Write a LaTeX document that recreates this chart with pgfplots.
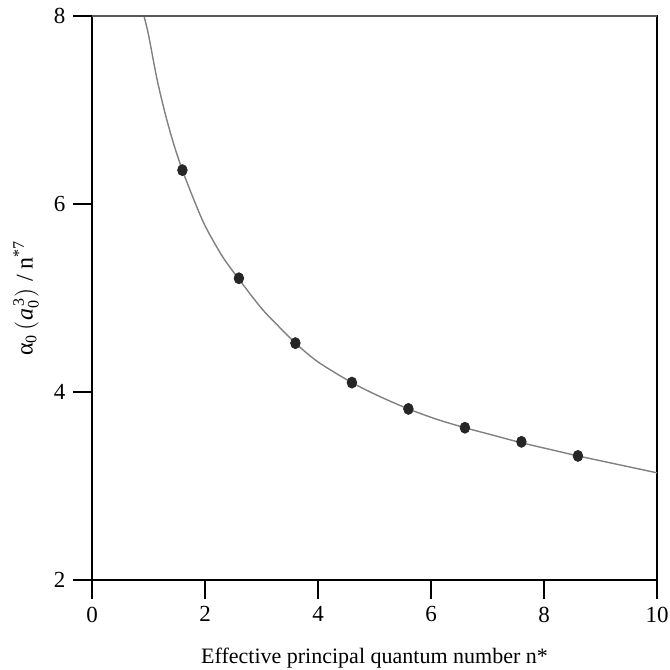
\documentclass[border=0pt]{standalone}
\usepackage{amsmath}
\usepackage{fontspec}
\setmainfont{Liberation Serif}
\usepackage{pgfplots}
\pgfplotsset{compat=1.18}

% measured points (polarizability per n*^7)
\pgfplotstableread{
x y
1.6 6.36
2.6 5.21
3.6 4.52
4.6 4.10
5.6 3.82
6.6 3.62
7.6 3.47
8.6 3.32
}\pts
% fitted curve
\pgfplotstableread{
x y
0.92 8.00
1.00 7.80
1.15 7.33
1.30 6.95
1.45 6.63
1.60 6.36
1.80 6.05
2.00 5.77
2.30 5.45
2.60 5.20
3.00 4.89
3.30 4.70
3.60 4.52
4.00 4.32
4.60 4.10
5.10 3.95
5.60 3.82
6.10 3.71
6.60 3.62
7.10 3.54
7.60 3.46
8.10 3.39
8.60 3.32
9.30 3.23
10.0 3.14
}\fit

\begin{document}
\begin{tikzpicture}
\fontsize{11}{13}\selectfont
\begin{axis}[
    name=ax,
    width=282.5pt, height=282pt, scale only axis,
    xmin=0, xmax=10, ymin=2, ymax=8,
    xtick={0,2,...,10}, ytick={2,4,6,8},
    tick pos=left, tick align=outside,
    major tick length=9.5pt,
    every tick/.style={black, line width=0.9pt},
    axis line style={black, line width=0.9pt},
    /pgf/number format/assume math mode=true,
    ticklabel style={font=\fontsize{11.5}{13}\selectfont},
    xlabel={Effective principal quantum number n*},
    ylabel={$\text{α}_{\text{0}}\,(\textit{a}_{\text{0}}^{\,\text{3}})$ / n$^{\text{*7}}$},
    xlabel style={at={(axis description cs:0.5,0)}, anchor=base, yshift=-41.5pt,
        font=\fontsize{11}{13}\selectfont},
    ylabel style={at={(axis description cs:-0.105,0.5)}, anchor=base,
        font=\fontsize{12}{14}\selectfont},
    clip=true,
]
\addplot[gray, line width=0.7pt, smooth, no marks] table {\fit};
\addplot[only marks, mark=*, mark size=2.4pt,
    mark options={fill=black!85, draw=black!85, yscale=1.15}] table {\pts};
\draw[black!65, line width=1.1pt] (rel axis cs:0,1) -- (rel axis cs:1,1);
\end{axis}
\pgfresetboundingbox
\path ([shift={(-46pt,-45pt)}]ax.south west) rectangle ([shift={(6pt,8pt)}]ax.north east);
\end{tikzpicture}
\end{document}
